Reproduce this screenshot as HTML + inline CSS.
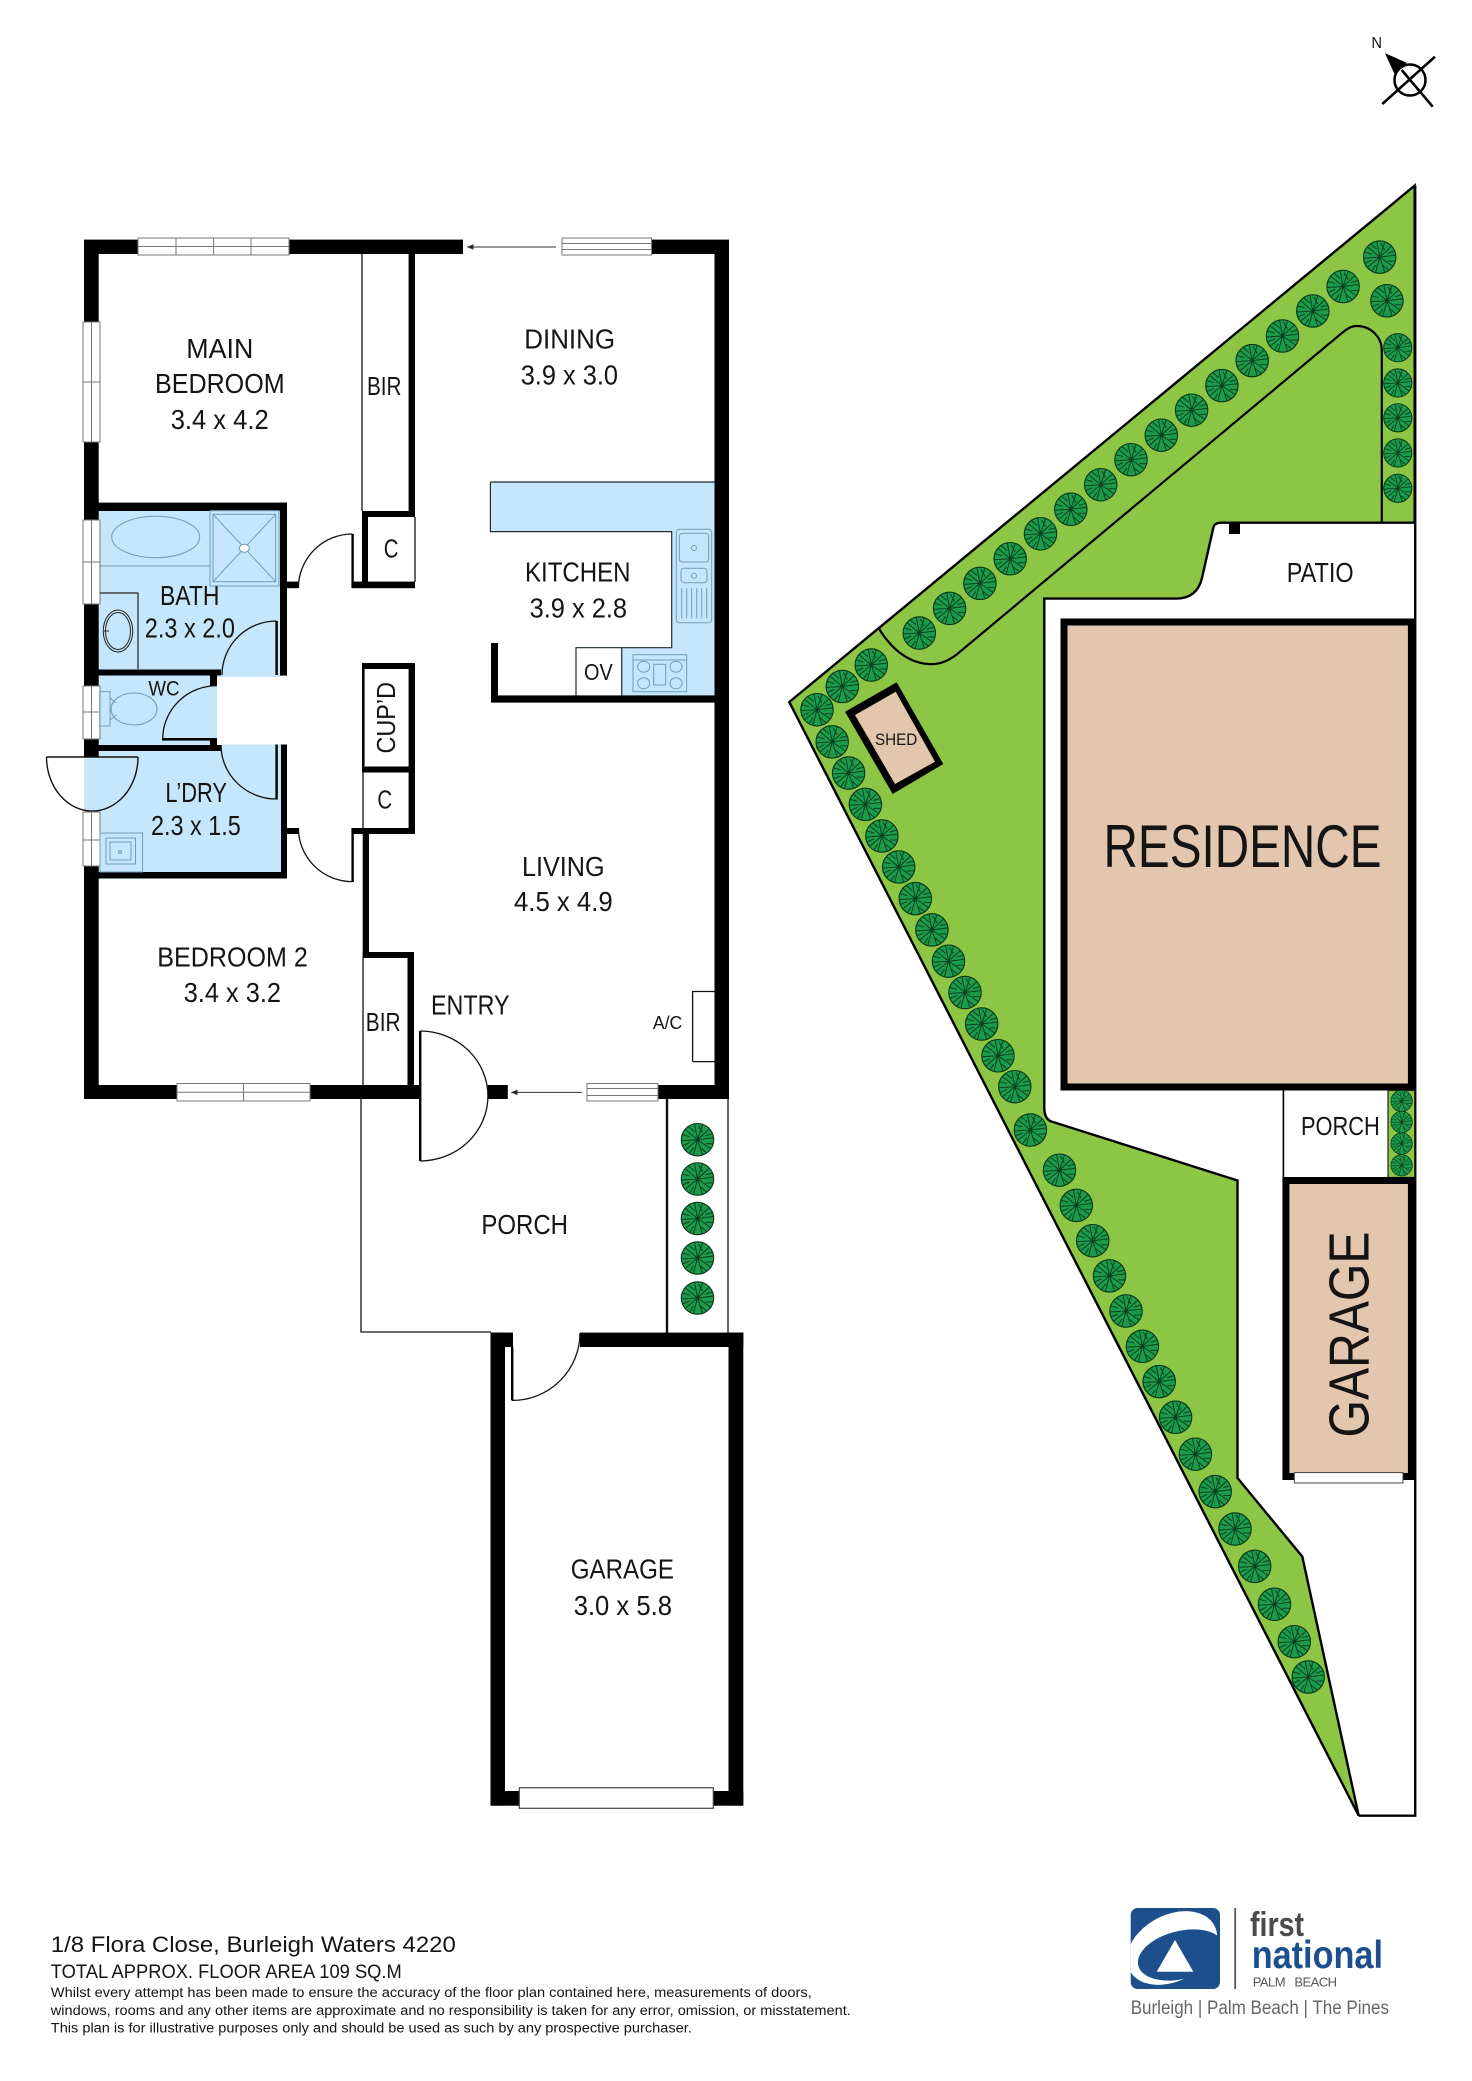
<!DOCTYPE html>
<html lang="en">
<head>
<meta charset="utf-8">
<title>1/8 Flora Close floor plan</title>
<style>
html,body{margin:0;padding:0;background:#fff}
svg{display:block}
text{font-family:"Liberation Sans",sans-serif;fill:#141414}
.m{font-size:28px}
.f{fill:none;stroke:#6f9db5;stroke-width:1}
.arc{fill:none;stroke:#111;stroke-width:1.3}
.w{fill:#fff;stroke:#777;stroke-width:1}
.d{stroke:#777;stroke-width:1;fill:none}
</style>
</head>
<body>
<svg xmlns="http://www.w3.org/2000/svg" width="1472" height="2081" viewBox="0 0 1472 2081">
<defs>
<g id="t">
<circle r="16.2" fill="#1b9c4b" stroke="#0a3319" stroke-width="1.1"/>
<path d="M0 0L-3 -16M0 0L5 -15M0 0L12 -11M0 0L16 -2M0 0L13 9M0 0L5 15M0 0L-4 15M0 0L-12 10M0 0L-16 1M0 0L-12 -10M-3 -8L-9 -13M5 -7L1 -14M8 -4L15 -6M8 4L15 4M3 8L9 13M-4 8L-8 14M-8 3L-15 6M-8 -3L-15 -5" fill="none" stroke="#0c3f1f" stroke-width="1"/>
</g>
<clipPath id="lg"><rect x="1130.7" y="1908" width="89.3" height="81" rx="7"/></clipPath>
</defs>

<!-- compass -->
<text x="1371.5" y="48" style="font-size:15.5px" textLength="10.5" lengthAdjust="spacingAndGlyphs">N</text>
<circle cx="1410" cy="80" r="15.5" fill="none" stroke="#000" stroke-width="2.5"/>
<path d="M1382.3 104L1435 56.7M1401.7 70L1432.7 106.7" stroke="#000" stroke-width="2.6" fill="none"/>
<path d="M1385 53.3L1406.7 62.7L1395 75Z" fill="#000"/>

<!-- PLAN: blue rooms -->
<g fill="#c6e7fb">
<rect x="98" y="511" width="182" height="166"/>
<rect x="98" y="675" width="119" height="70"/>
<rect x="84" y="751" width="197" height="121"/>
<rect x="221" y="744.5" width="60" height="10"/>
<path d="M490.4 482H714.5V695.5H621.7V647.7H671.7V531.6H490.4Z"/>
</g>
<path d="M490.4 482H714.5M490.4 482V531.6H671.7V647.7H576V695.5M621.7 647.7V695.5" fill="none" stroke="#1e2b30" stroke-width="1.2"/>

<!-- PLAN: walls -->
<g fill="#000">
<rect x="84" y="239.6" width="379" height="14.4"/>
<rect x="651.5" y="239.6" width="77.5" height="14.4"/>
<rect x="84" y="240" width="14.7" height="517"/>
<rect x="84" y="812" width="14.7" height="287"/>
<rect x="84" y="1085" width="335.4" height="14"/>
<rect x="487.7" y="1085" width="20.1" height="14"/>
<rect x="658" y="1085" width="71" height="14"/>
<rect x="714.5" y="240" width="14.5" height="859"/>
<!-- bath -->
<rect x="98" y="502.6" width="189" height="8.4"/>
<rect x="280" y="502.6" width="7" height="173"/>
<rect x="287" y="581.6" width="11" height="6.6"/>
<rect x="98" y="669.5" width="123" height="6"/>
<rect x="210" y="675" width="7" height="11"/>
<rect x="162" y="738" width="55" height="2.6"/>
<rect x="210" y="738" width="7" height="7"/>
<rect x="98" y="745" width="123.6" height="6"/>
<!-- laundry -->
<rect x="281" y="744.5" width="6" height="134"/>
<rect x="98" y="872" width="189" height="6.5"/>
<rect x="287" y="828" width="11" height="6"/>
<!-- BIR / C top -->
<rect x="408.6" y="254" width="6.4" height="263"/>
<rect x="362" y="511" width="53" height="6"/>
<rect x="362" y="511" width="6" height="77"/>
<rect x="352" y="581.6" width="63" height="6.6"/>
<!-- door leaves -->
<rect x="351.4" y="534" width="2.4" height="54"/>
<rect x="275.4" y="621" width="2.4" height="54"/>
<rect x="275.4" y="744.5" width="2.4" height="55"/>
<rect x="351.4" y="828" width="2.4" height="54"/>
<!-- cupboard -->
<rect x="362" y="663" width="53" height="6"/>
<rect x="362" y="663" width="2" height="104"/>
<rect x="408.6" y="663" width="6.4" height="171"/>
<rect x="362" y="766.5" width="53" height="6"/>
<rect x="352" y="828" width="63" height="6"/>
<!-- living left wall -->
<rect x="362.7" y="834" width="6.3" height="124"/>
<rect x="362.7" y="952" width="51.3" height="6"/>
<rect x="407.5" y="952" width="6.5" height="134"/>
<!-- kitchen -->
<rect x="491" y="695.4" width="224" height="7.2"/>
<rect x="491" y="643" width="7" height="59"/>
<!-- porch door leaves -->
<rect x="419" y="1031" width="2.4" height="130"/>
<!-- garage -->
<rect x="490.5" y="1332.6" width="14.5" height="473"/>
<rect x="490.5" y="1332.6" width="22.5" height="14.4"/>
<rect x="580" y="1332.6" width="163.3" height="14.4"/>
<rect x="728.5" y="1332.6" width="14.8" height="473"/>
<rect x="490.5" y="1791" width="252.8" height="14.7"/>
<rect x="511" y="1347" width="2.4" height="53.4"/>
</g>

<!-- thin lines -->
<g fill="none" stroke="#111" stroke-width="1.3">
<path d="M362 254V511M415 517V582M363 958V1085M364 669V766"/>
<path d="M363 772V828"/>
<path d="M361 1099V1332H491"/>
<path d="M692.6 1061.6V991.5H714.5"/>
<path d="M692.6 1061.6H714.5"/>
<path d="M667 1099V1333" stroke-width="2.4"/>
<path d="M728 1099V1333"/>
</g>

<!-- arcs -->
<g class="arc">
<path d="M298.4 588A54 54 0 0 1 352.4 534"/>
<path d="M222 675A54.5 54 0 0 1 276.5 621"/>
<path d="M162.7 739A54.5 53.4 0 0 1 217 685.6"/>
<path d="M221 745A55.5 54 0 0 0 276.5 799"/>
<path d="M298.4 828A54 53.6 0 0 0 352.4 881.6"/>
<path d="M46.5 757H138M46.5 757A45.7 54 0 0 0 138 757" stroke-width="1.4"/>
<path d="M420 1031A68 65 0 0 1 420 1161"/>
<path d="M512 1400.4A67.5 67.5 0 0 0 580 1333"/>
</g>

<!-- sliding door arrows -->
<g stroke="#333" stroke-width="1" fill="#222">
<path d="M556 247H470" fill="none"/><path d="M468 247L473 245V249Z"/>
<path d="M582 1092.4H514" fill="none"/><path d="M512 1092.4L517 1090.4V1094.4Z"/>
</g>

<!-- windows -->
<rect class="w" x="138" y="238" width="151" height="17"/>
<path class="d" d="M138 246.5H289M176 238V255M213.6 238V255M251 238V255"/>
<rect class="w" x="562" y="238" width="89.5" height="17"/>
<path class="d" d="M562 243.5H651.5M562 249.5H651.5"/>
<rect class="w" x="83" y="322" width="17" height="120"/>
<path class="d" d="M91.5 322V442M83 382H100"/>
<rect class="w" x="83" y="520" width="17" height="84"/>
<path class="d" d="M91.5 520V604M83 562H100"/>
<rect class="w" x="83" y="686" width="17" height="53"/>
<path class="d" d="M91.5 686V739M83 712H100"/>
<rect class="w" x="83" y="812" width="17" height="54"/>
<path class="d" d="M91.5 812V866M83 840H100"/>
<rect class="w" x="177" y="1083.5" width="133" height="17.5"/>
<path class="d" d="M177 1092.3H310M243.5 1083.5V1101"/>
<rect class="w" x="587" y="1083.5" width="71" height="17.5"/>
<path class="d" d="M587 1088.5H658M587 1095.5H658"/>
<rect x="519.3" y="1787.7" width="194" height="20.6" fill="#fff" stroke="#444" stroke-width="1.2"/>

<!-- fixtures -->
<ellipse class="f" cx="155.7" cy="537" rx="44" ry="20.7"/>
<path class="f" d="M99 566H210"/>
<rect class="f" x="210" y="510.7" width="69" height="75.3"/>
<rect class="f" x="213" y="514.3" width="62.7" height="67.4"/>
<path class="f" d="M213 514.3L275.7 581.7M275.7 514.3L213 581.7"/>
<ellipse cx="244.3" cy="548.3" rx="5" ry="4" fill="#fff" stroke="#6f9db5"/>
<path d="M99.7 593H138V669" fill="none" stroke="#222" stroke-width="1.2"/>
<ellipse cx="118" cy="631" rx="14.7" ry="21" fill="none" stroke="#222"/>
<ellipse cx="118" cy="631" rx="12.5" ry="18.5" fill="none" stroke="#222"/>
<path d="M104 631H109" stroke="#222"/>
<rect class="f" x="99.7" y="691.7" width="10.3" height="34.3"/>
<ellipse class="f" cx="134" cy="709" rx="23" ry="16"/>
<path class="f" d="M110 698L116 703M110 720L116 715"/>
<rect class="f" x="100" y="833" width="42.6" height="39"/>
<rect class="f" x="106" y="838" width="29.5" height="26"/>
<rect class="f" x="110" y="842" width="21" height="18"/>
<circle class="f" cx="120" cy="852" r="1.5"/>
<rect class="f" x="676.3" y="529.3" width="35.4" height="93.4" rx="3"/>
<rect class="f" x="679.3" y="533.3" width="29.4" height="28.7" rx="3"/>
<circle class="f" cx="694" cy="548" r="2.5"/>
<rect class="f" x="681" y="568.3" width="26" height="14.4" rx="3"/>
<circle class="f" cx="694" cy="575.7" r="2.5"/>
<path class="f" d="M681.7 588.3V618.3M686.7 588.3V618.3M691.7 588.3V618.3M696.7 588.3V618.3M701.7 588.3V618.3M706.7 588.3V618.3"/>
<rect class="f" x="633" y="654.7" width="53.7" height="37"/>
<path class="f" d="M633 660H686.7"/>
<ellipse class="f" cx="643.7" cy="666.7" rx="6" ry="5.5"/>
<ellipse class="f" cx="643.7" cy="683.3" rx="6" ry="5.5"/>
<ellipse class="f" cx="676" cy="666.7" rx="6" ry="5.5"/>
<ellipse class="f" cx="676" cy="683.3" rx="6" ry="5.5"/>
<rect class="f" x="653.7" y="664.3" width="12" height="20.7"/>

<!-- porch plants -->
<use href="#t" x="697.5" y="1139.7"/>
<use href="#t" x="697.5" y="1179"/>
<use href="#t" x="697.5" y="1218.5"/>
<use href="#t" x="697.5" y="1258"/>
<use href="#t" x="697.5" y="1298"/>

<!-- plan labels -->
<g class="m">
<text x="186.3" y="358" textLength="67" lengthAdjust="spacingAndGlyphs">MAIN</text>
<text x="155" y="393.2" textLength="129.6" lengthAdjust="spacingAndGlyphs">BEDROOM</text>
<text x="170.7" y="429" textLength="98" lengthAdjust="spacingAndGlyphs">3.4 x 4.2</text>
<text x="524.3" y="348.6" textLength="90.7" lengthAdjust="spacingAndGlyphs">DINING</text>
<text x="520.7" y="384.3" textLength="97.3" lengthAdjust="spacingAndGlyphs">3.9 x 3.0</text>
<text x="367" y="395" style="font-size:26px" textLength="34.5" lengthAdjust="spacingAndGlyphs">BIR</text>
<text x="383.7" y="557.5" style="font-size:26px" textLength="14.7" lengthAdjust="spacingAndGlyphs">C</text>
<text x="525" y="581.6" textLength="105.5" lengthAdjust="spacingAndGlyphs">KITCHEN</text>
<text x="529.6" y="617.3" textLength="97.4" lengthAdjust="spacingAndGlyphs">3.9 x 2.8</text>
<text x="584" y="679.8" style="font-size:23px" textLength="28.7" lengthAdjust="spacingAndGlyphs">OV</text>
<text x="160" y="604.8" textLength="59.4" lengthAdjust="spacingAndGlyphs">BATH</text>
<text x="144.8" y="637.4" textLength="90.2" lengthAdjust="spacingAndGlyphs">2.3 x 2.0</text>
<text x="148.4" y="695.4" style="font-size:21px" textLength="31.2" lengthAdjust="spacingAndGlyphs">WC</text>
<text x="165.4" y="802" textLength="61.6" lengthAdjust="spacingAndGlyphs">L’DRY</text>
<text x="151" y="835" textLength="89.8" lengthAdjust="spacingAndGlyphs">2.3 x 1.5</text>
<text transform="translate(394.8 753.5) rotate(-90)" style="font-size:26px" textLength="71.5" lengthAdjust="spacingAndGlyphs">CUP’D</text>
<text x="377.4" y="808.4" style="font-size:26px" textLength="14.7" lengthAdjust="spacingAndGlyphs">C</text>
<text x="522" y="876" textLength="82.6" lengthAdjust="spacingAndGlyphs">LIVING</text>
<text x="514" y="911" textLength="98.7" lengthAdjust="spacingAndGlyphs">4.5 x 4.9</text>
<text x="157.3" y="966.5" textLength="150.5" lengthAdjust="spacingAndGlyphs">BEDROOM 2</text>
<text x="183.7" y="1002" textLength="97.3" lengthAdjust="spacingAndGlyphs">3.4 x 3.2</text>
<text x="365.8" y="1031" style="font-size:26px" textLength="34.8" lengthAdjust="spacingAndGlyphs">BIR</text>
<text x="431" y="1014.7" textLength="78.5" lengthAdjust="spacingAndGlyphs">ENTRY</text>
<text x="652.9" y="1029" style="font-size:18.5px" textLength="29.4" lengthAdjust="spacingAndGlyphs">A/C</text>
<text x="481.4" y="1234" textLength="86.6" lengthAdjust="spacingAndGlyphs">PORCH</text>
<text x="570.7" y="1578.7" textLength="103.3" lengthAdjust="spacingAndGlyphs">GARAGE</text>
<text x="573.7" y="1615" textLength="98.3" lengthAdjust="spacingAndGlyphs">3.0 x 5.8</text>
</g>

<!-- SITE -->
<path d="M1414.7 185.6L1414.7 522.7L1221 522.7Q1215 522.7 1213.5 527L1202 578Q1197 598.6 1176 598.6L1044.3 598.6L1044.3 1108Q1044.3 1120 1053 1122L1237.5 1180.5L1237.5 1478L1302.3 1556.6L1358.7 1815.7L789.3 702Z" fill="#8dc644" stroke="#000" stroke-width="2.4" stroke-linejoin="miter"/>
<path d="M1358.7 1815.7H1415.2V185.6" fill="none" stroke="#000" stroke-width="2.4"/>
<path d="M878.9 628.5C892 650 910 664.2 931.5 664.2C941 664.2 949 660.5 956.8 654.4L1341.9 333C1347 329 1351 326 1356.6 326C1371 326 1381.8 337 1381.8 350.8V522.7" fill="none" stroke="#000" stroke-width="2.2"/>

<!-- residence -->
<rect x="1064" y="622" width="347.4" height="465" fill="#e2c6ae" stroke="#000" stroke-width="7"/>
<rect x="1229" y="523.5" width="11" height="10.5" fill="#000"/>

<!-- porch -->
<rect x="1283.4" y="1090.5" width="104.6" height="87" fill="#fff"/>
<path d="M1283.4 1090.5V1177" stroke="#000" stroke-width="1.6"/>
<rect x="1388" y="1090.5" width="26.7" height="87" fill="#8dc644" stroke="#222" stroke-width="1.2"/>
<g>
<use href="#t" transform="translate(1401.6 1101) scale(.66)"/>
<use href="#t" transform="translate(1401.6 1122) scale(.66)"/>
<use href="#t" transform="translate(1401.6 1143.6) scale(.66)"/>
<use href="#t" transform="translate(1401.6 1165.3) scale(.66)"/>
</g>

<!-- site garage -->
<rect x="1285.9" y="1180.5" width="125.5" height="296" fill="#e2c6ae" stroke="#000" stroke-width="7"/>
<rect x="1294.3" y="1472.6" width="108.7" height="10.4" fill="#fff" stroke="#444" stroke-width="1"/>

<!-- shed -->
<path d="M845 711.7L896.7 682.3L943.3 764L892.7 794Z" fill="#000"/>
<path d="M855 715L895.7 691.7L935 761.7L895 784Z" fill="#e2c6ae"/>

<!-- trees -->
<g>
<use href="#t" x="1379.7" y="257.1"/><use href="#t" x="1343.1" y="286.5"/><use href="#t" x="1312.8" y="311"/>
<use href="#t" x="1282.5" y="336"/><use href="#t" x="1252.2" y="360.6"/><use href="#t" x="1221.9" y="385.6"/>
<use href="#t" x="1191.6" y="410.2"/><use href="#t" x="1161.3" y="435.2"/><use href="#t" x="1131" y="459.7"/>
<use href="#t" x="1100.7" y="484.7"/><use href="#t" x="1070.8" y="509.3"/><use href="#t" x="1040.5" y="533.8"/>
<use href="#t" x="1010.2" y="558.8"/><use href="#t" x="979.9" y="583.4"/><use href="#t" x="949.6" y="608.4"/>
<use href="#t" x="919.3" y="633"/><use href="#t" x="1386.9" y="300.8"/>
<use href="#t" transform="translate(1397.8 347.7) scale(.87)"/>
<use href="#t" transform="translate(1397.8 383) scale(.87)"/>
<use href="#t" transform="translate(1397.8 417.8) scale(.87)"/>
<use href="#t" transform="translate(1397.8 453) scale(.87)"/>
<use href="#t" transform="translate(1397.8 488.3) scale(.87)"/>
<use href="#t" x="871.3" y="665"/><use href="#t" x="842.3" y="686.5"/><use href="#t" x="817" y="709.7"/>
<use href="#t" x="832.2" y="741.9"/><use href="#t" x="848.6" y="773"/><use href="#t" x="865.4" y="804.4"/>
<use href="#t" x="881.9" y="836"/><use href="#t" x="898.7" y="867"/><use href="#t" x="915.3" y="898.6"/>
<use href="#t" x="931.9" y="929.9"/><use href="#t" x="948.5" y="961.2"/><use href="#t" x="965" y="992.5"/>
<use href="#t" x="981.7" y="1024"/><use href="#t" x="998" y="1055.8"/><use href="#t" x="1014.8" y="1086.7"/>
<use href="#t" x="1030.4" y="1130"/><use href="#t" x="1059.5" y="1170.2"/><use href="#t" x="1076.3" y="1205.4"/>
<use href="#t" x="1092.7" y="1240.7"/><use href="#t" x="1109.5" y="1275.9"/><use href="#t" x="1126" y="1311"/>
<use href="#t" x="1142.4" y="1346.3"/><use href="#t" x="1159.2" y="1381.6"/><use href="#t" x="1175.6" y="1417.3"/>
<use href="#t" x="1195.4" y="1454.2"/><use href="#t" x="1215.2" y="1491.6"/><use href="#t" x="1235" y="1529"/>
<use href="#t" x="1254.7" y="1566.4"/><use href="#t" x="1274.5" y="1604.3"/><use href="#t" x="1294.3" y="1641.7"/>
<use href="#t" x="1308.2" y="1677"/>
</g>

<!-- site labels -->
<text x="1103.5" y="867" style="font-size:60px" textLength="278" lengthAdjust="spacingAndGlyphs">RESIDENCE</text>
<text x="1286.7" y="582" style="font-size:27.5px" textLength="67" lengthAdjust="spacingAndGlyphs">PATIO</text>
<text x="1301" y="1135" style="font-size:26px" textLength="78.8" lengthAdjust="spacingAndGlyphs">PORCH</text>
<text x="875" y="745" style="font-size:17px" textLength="42.3" lengthAdjust="spacingAndGlyphs">SHED</text>
<text transform="translate(1368.5 1437.5) rotate(-90)" style="font-size:57px" textLength="206" lengthAdjust="spacingAndGlyphs">GARAGE</text>

<!-- footer -->
<text x="50.8" y="1952" style="font-size:22px" textLength="405" lengthAdjust="spacingAndGlyphs">1/8 Flora Close, Burleigh Waters 4220</text>
<text x="50.8" y="1978" style="font-size:19.5px" textLength="351" lengthAdjust="spacingAndGlyphs">TOTAL APPROX. FLOOR AREA 109 SQ.M</text>
<text x="50.8" y="1997" style="font-size:13.5px" textLength="761" lengthAdjust="spacingAndGlyphs">Whilst every attempt has been made to ensure the accuracy of the floor plan contained here, measurements of doors,</text>
<text x="50.8" y="2015" style="font-size:13.5px" textLength="800" lengthAdjust="spacingAndGlyphs">windows, rooms and any other items are approximate and no responsibility is taken for any error, omission, or misstatement.</text>
<text x="50.8" y="2032.6" style="font-size:13.5px" textLength="641" lengthAdjust="spacingAndGlyphs">This plan is for illustrative purposes only and should be used as such by any prospective purchaser.</text>

<!-- logo -->
<rect x="1130.7" y="1908" width="89.3" height="81" rx="7" fill="#1c4f8c"/>
<g clip-path="url(#lg)">
<ellipse cx="1172" cy="1948" rx="48" ry="33" transform="rotate(-28 1172 1948)" fill="#fff"/>
<ellipse cx="1181" cy="1955" rx="44" ry="24" transform="rotate(-14 1181 1955)" fill="#1c4f8c"/>
</g>
<path d="M1175 1940L1193.3 1971.7H1156.7Z" fill="#fff"/>
<rect x="1234.3" y="1908" width="1.8" height="81" fill="#555"/>
<text x="1250" y="1936" style="font-size:34px;font-weight:bold;fill:#4a4a4a" textLength="54" lengthAdjust="spacingAndGlyphs">first</text>
<text x="1251.7" y="1968" style="font-size:39px;font-weight:bold;fill:#1c4f8c" textLength="131.3" lengthAdjust="spacingAndGlyphs">national</text>
<text x="1252.7" y="1986.7" style="font-size:13px;fill:#555" textLength="84.3" xml:space="preserve">PALM   BEACH</text>
<text x="1130.7" y="2014" style="font-size:19px;fill:#666" textLength="258.3" lengthAdjust="spacingAndGlyphs">Burleigh | Palm Beach | The Pines</text>
</svg>
</body>
</html>
